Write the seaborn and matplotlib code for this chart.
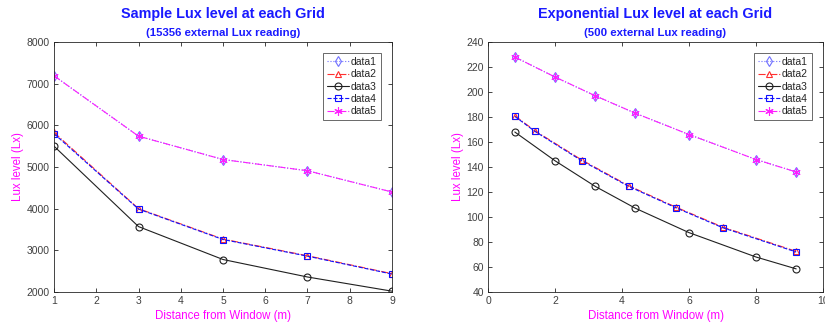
import matplotlib
matplotlib.use("Agg")
import matplotlib.pyplot as plt
import seaborn as sns
import numpy as np

# ---- data: left chart (15356 external lux) ----
left_x = [1, 3, 5, 7, 9]
left_data1 = [7190, 5740, 5180, 4910, 4400]
left_data2 = [5830, 4000, 3270, 2870, 2440]
left_data3 = [5500, 3570, 2780, 2360, 2020]
left_data4 = [5800, 3990, 3260, 2860, 2430]
left_data5 = [7190, 5740, 5180, 4910, 4400]

# ---- data: right chart (500 external lux) ----
right_x_top = [0.8, 2.0, 3.2, 4.4, 6.0, 8.0, 9.2]
right_x_mid = [0.8, 1.4, 2.8, 4.2, 5.6, 7.0, 9.2]
right_data1 = [228, 212, 197, 183, 166, 146, 136]
right_data2 = [181, 169, 145.6, 125, 108, 92, 72.5]
right_data3 = [168, 145, 124.5, 107, 87.5, 68, 58.5]
right_data4 = [180.5, 168.5, 145, 124.5, 107.5, 91.5, 72]
right_data5 = [228, 212, 197, 183, 166, 146, 136]

labels = ["data1", "data2", "data3", "data4", "data5"]
left_xticks = [1, 2, 3, 4, 5, 6, 7, 8, 9]
left_yticks = [2000, 3000, 4000, 5000, 6000, 7000, 8000]
right_xticks = [0, 2, 4, 6, 8, 10]
right_yticks = [40, 60, 80, 100, 120, 140, 160, 180, 200, 220, 240]

sns.set_theme(style="white")
plt.rcParams['font.family'] = ['Liberation Sans', 'DejaVu Sans']

styles = [
    dict(color="#7070ff", marker="d", linestyle=":", ms=5),
    dict(color="#ff3030", marker="^", linestyle="-.", ms=5),
    dict(color="#202020", marker="o", linestyle="-", ms=5),
    dict(color="#1010ff", marker="s", linestyle="--", ms=4.5),
    dict(color="#ff20ff", marker=(6, 2, 0), linestyle="-.", ms=6),
]

fig = plt.figure(figsize=(8.25, 3.28), dpi=100)
W, H = 825, 328
axL = fig.add_axes([54 / W, 36 / H, (392 - 54) / W, 250 / H])
axR = fig.add_axes([488 / W, 36 / H, (823 - 488) / W, 250 / H])

def draw(ax, xs, ys):
    for x, y, lab, st in zip(xs, ys, labels, styles):
        sns.lineplot(x=x, y=y, ax=ax, label=lab, color=st["color"],
                     marker=st["marker"], linestyle=st["linestyle"],
                     markerfacecolor="none", markeredgecolor=st["color"],
                     markersize=st["ms"], markeredgewidth=0.8,
                     linewidth=0.8, sort=False, estimator=None)

draw(axL, [left_x] * 5, [left_data1, left_data2, left_data3, left_data4, left_data5])
draw(axR, [right_x_top, right_x_mid, right_x_top, right_x_mid, right_x_top],
     [right_data1, right_data2, right_data3, right_data4, right_data5])

axL.set_xlim(1, 9)
axL.set_ylim(2000, 8000)
axL.set_xticks(left_xticks)
axL.set_yticks(left_yticks)
axR.set_xlim(0, 10)
axR.set_ylim(40, 240)
axR.set_xticks(right_xticks)
axR.set_yticks(right_yticks)

titles = [("Sample Lux level at each Grid", "(15356 external Lux reading)"),
          ("Exponential Lux level at each Grid", "(500 external Lux reading)")]

for ax, (t1, t2) in zip([axL, axR], titles):
    for sp in ax.spines.values():
        sp.set_color("#262626")
        sp.set_linewidth(0.6)
    ax.tick_params(direction="in", length=3, width=0.6, colors="#262626",
                   labelsize=7.5, top=True, right=True, bottom=True, left=True,
                   labelcolor="#404040", pad=3)
    ax.set_xlabel("Distance from Window (m)", color="#ff00ff", fontsize=8.3, labelpad=3)
    ax.set_ylabel("Lux level (Lx)", color="#ff00ff", fontsize=8.3, labelpad=2)
    ax.text(0.5, 1.0 + 28 / 250, t1, transform=ax.transAxes, ha="center", va="center",
            color="#1a1aff", fontsize=10.4, fontweight="bold")
    ax.text(0.5, 1.0 + 9 / 250, t2, transform=ax.transAxes, ha="center", va="center",
            color="#1a1aff", fontsize=8.2, fontweight="bold")
    leg = ax.legend(loc="upper right", fontsize=7.5, frameon=True, fancybox=False,
                    borderpad=0.4, labelspacing=0.22, handlelength=2.1,
                    handletextpad=0.2, borderaxespad=1.05)
    leg.get_frame().set_edgecolor("#262626")
    leg.get_frame().set_linewidth(0.6)
    for t in leg.get_texts():
        t.set_color("#262626")

fig.savefig("out.png", dpi=100)
